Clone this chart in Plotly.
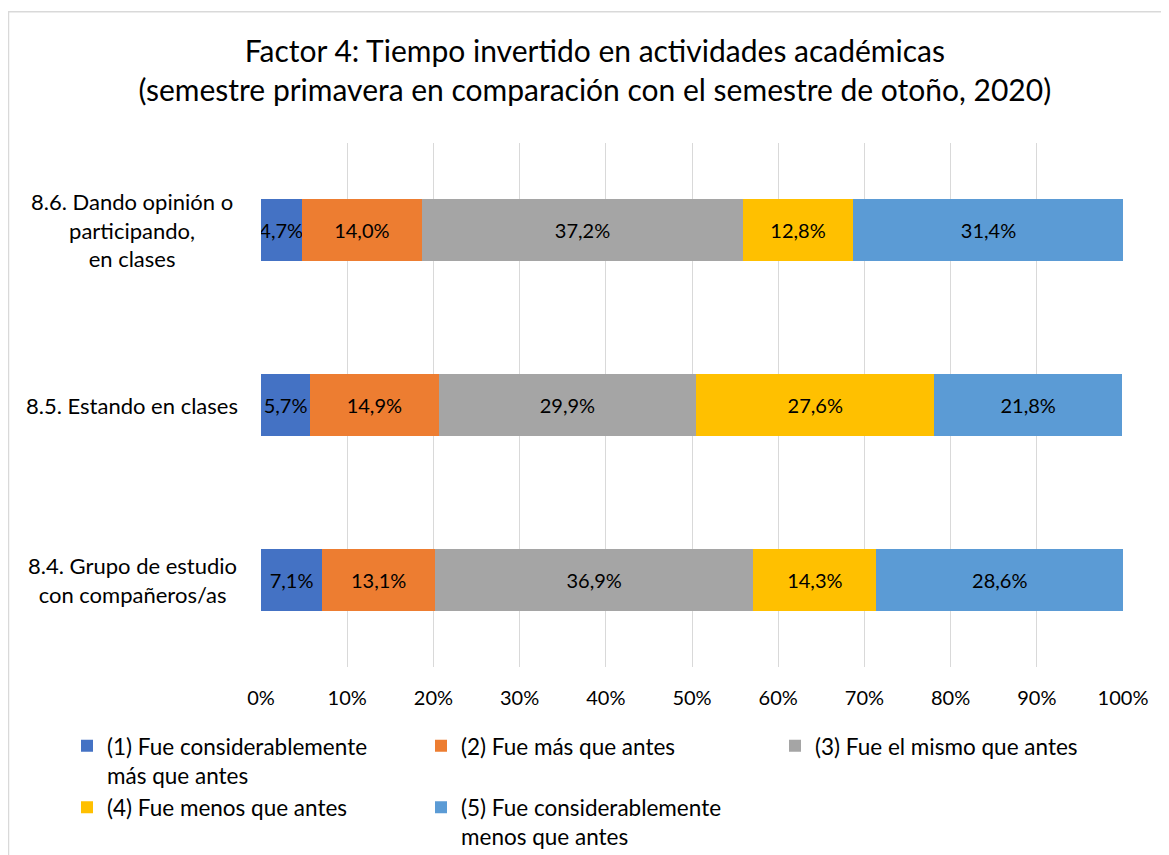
import plotly.graph_objects as go

categories = ["8.4. Grupo de estudio<br>con compañeros/as",
              "8.5. Estando en clases",
              "8.6. Dando opinión o<br>participando,<br>en clases"]
series_names = ["(1) Fue considerablemente<br>más que antes",
                "(2) Fue más que antes",
                "(3) Fue el mismo que antes",
                "(4) Fue menos que antes",
                "(5) Fue considerablemente<br>menos que antes"]
s1 = [7.1, 5.7, 4.7]
s2 = [13.1, 14.9, 14.0]
s3 = [36.9, 29.9, 37.2]
s4 = [14.3, 27.6, 12.8]
s5 = [28.6, 21.8, 31.4]
series_values = [s1, s2, s3, s4, s5]
colors = ["#4472C4", "#ED7D31", "#A5A5A5", "#FFC000", "#5B9BD5"]
tick_vals = [0, 10, 20, 30, 40, 50, 60, 70, 80, 90, 100]
tick_text = [f"{v}%" for v in tick_vals]

FONT = "Lato"
# page is offset by the 8px body margin; plot area spans page x 261..1123, y 142.5..667.5
ML, MR, MT, MB = 253, 54, 134.5, 195.5
PW = 1169 - ML - MR
PH = 855 - MT - MB

fig = go.Figure()
for name, vals, col in zip(series_names, series_values, colors):
    fig.add_trace(go.Bar(
        y=categories, x=vals, name=name, orientation="h",
        marker=dict(color=col, line=dict(width=0)),
        texttemplate="%{x:.1f}%", textposition="inside", textangle=0,
        insidetextanchor="middle", constraintext="none",
        textfont=dict(color="black", size=20, family=FONT),
    ))

for cat in categories:
    fig.add_annotation(x=(124 - ML) / PW, xref="paper", y=cat, yref="y",
                       text=cat, showarrow=False, align="center",
                       xanchor="center", yanchor="middle",
                       font=dict(size=22, color="black", family=FONT))

fig.add_shape(type="rect", xref="paper", yref="paper",
              x0=(0.5 - ML) / PW, x1=1.3, y0=-0.6, y1=(MT + PH - 3) / PH,
              line=dict(color="#D9D9D9", width=1.5), fillcolor="rgba(0,0,0,0)", layer="below")

fig.update_layout(
    width=1169, height=855,
    barmode="stack", bargap=0.646,
    separators=",.",
    paper_bgcolor="white", plot_bgcolor="white",
    margin=dict(l=ML, r=MR, t=MT, b=MB, autoexpand=False),
    title=dict(text="Factor 4: Tiempo invertido en actividades académicas<br>(semestre primavera en comparación con el semestre de otoño, 2020)",
               x=0.502, xanchor="center", y=0.937, yanchor="top",
               font=dict(size=30, color="black", family=FONT)),
    xaxis=dict(range=[0, 100], tickvals=tick_vals, ticktext=tick_text,
               showgrid=True, gridcolor="#D9D9D9", gridwidth=1,
               zeroline=False, showline=False, ticks="", ticklabelstandoff=17,
               tickfont=dict(size=20, color="black", family=FONT)),
    yaxis=dict(showticklabels=False, showgrid=False, zeroline=False, showline=False),
    showlegend=True,
    legend=dict(orientation="h", x=(59 - ML) / PW, xanchor="left",
                y=-0.11, yanchor="top", traceorder="normal", valign="top",
                entrywidth=309, entrywidthmode="pixels",
                font=dict(size=22.5, color="black", family=FONT)),
    font=dict(family=FONT, color="black"),
)

fig.write_html("out.html")
